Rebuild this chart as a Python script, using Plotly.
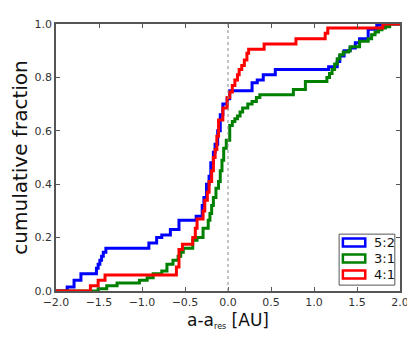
import plotly.graph_objects as go

# step edges (x) and cumulative fraction after each step (y)
blue_x = [-2.0, -1.87, -1.79, -1.71, -1.53, -1.51, -1.49, -1.47, -1.45, -1.42, -0.92, -0.83, -0.77, -0.67, -0.57,
          -0.37, -0.30, -0.28, -0.25, -0.22, -0.20, -0.17, -0.15, -0.12, -0.09, -0.06, -0.01, 0.02, 0.28, 0.34,
          0.41, 0.55, 1.17, 1.27, 1.30, 1.35, 1.42, 1.48, 1.53, 1.63, 1.73, 1.77, 2.0]
blue_y = [0, 0.015, 0.04, 0.065, 0.085, 0.10, 0.115, 0.13, 0.145, 0.16, 0.18, 0.20, 0.21, 0.23, 0.265,
          0.28, 0.32, 0.35, 0.40, 0.43, 0.48, 0.52, 0.55, 0.60, 0.66, 0.70, 0.72, 0.75, 0.78, 0.79,
          0.81, 0.83, 0.84, 0.86, 0.88, 0.90, 0.91, 0.93, 0.945, 0.98, 0.995, 1.0, 1.0]

green_x = [-2.0, -1.51, -1.41, -1.29, -1.03, -0.94, -0.87, -0.77, -0.71, -0.64, -0.58, -0.55, -0.52, -0.41,
           -0.36, -0.29, -0.23, -0.21, -0.19, -0.17, -0.14, -0.11, -0.09, -0.07, -0.05, -0.02, 0.02, 0.05,
           0.08, 0.11, 0.14, 0.17, 0.23, 0.28, 0.33, 0.37, 0.76, 0.90, 1.15, 1.18, 1.21, 1.24, 1.27, 1.30,
           1.34, 1.40, 1.42, 1.53, 1.63, 1.67, 1.71, 1.75, 1.79, 1.83, 1.88, 2.0]
green_y = [0, 0.008, 0.02, 0.03, 0.04, 0.05, 0.065, 0.075, 0.10, 0.115, 0.13, 0.145, 0.16, 0.19,
           0.20, 0.235, 0.265, 0.29, 0.32, 0.35, 0.385, 0.41, 0.45, 0.49, 0.535, 0.565, 0.62, 0.635,
           0.645, 0.655, 0.67, 0.685, 0.70, 0.71, 0.725, 0.735, 0.755, 0.785, 0.80, 0.815, 0.83, 0.85, 0.87, 0.885,
           0.895, 0.90, 0.915, 0.935, 0.945, 0.96, 0.97, 0.978, 0.985, 0.99, 1.0, 1.0]

red_x = [-2.0, -1.60, -1.51, -1.43, -0.60, -0.57, -0.53, -0.41, -0.38, -0.36, -0.29, -0.27, -0.24, -0.22,
         -0.19, -0.17, -0.15, -0.13, -0.11, -0.06, -0.01, 0.02, 0.05, 0.08, 0.11, 0.13, 0.16, 0.19, 0.22,
         0.24, 0.42, 0.79, 1.13, 1.16, 1.80, 2.0]
red_y = [0, 0.02, 0.04, 0.06, 0.09, 0.155, 0.175, 0.20, 0.235, 0.27, 0.30, 0.34, 0.37, 0.41,
         0.45, 0.50, 0.53, 0.58, 0.64, 0.685, 0.725, 0.745, 0.77, 0.79, 0.81, 0.83, 0.845, 0.865, 0.89,
         0.905, 0.925, 0.945, 0.965, 0.985, 1.0, 1.0]

series = [("5:2", blue_x, blue_y, "#0000ff"),
          ("3:1", green_x, green_y, "#008000"),
          ("4:1", red_x, red_y, "#ff0000")]

fig = go.Figure()
for name, xs, ys, col in series:
    fig.add_trace(go.Scatter(x=xs, y=ys, mode="lines", line=dict(color=col, width=3, shape="hv"),
                             name=name, showlegend=False))

fig.add_vline(x=0, line=dict(color="#888888", width=1, dash="dot"))

# legend box with outlined patches, matplotlib style
fig.add_shape(type="rect", xref="paper", yref="paper", x0=0.823, x1=0.985, y0=0.022, y1=0.213,
              line=dict(color="#555555", width=1), fillcolor="white", layer="above")
for i, (name, xs, ys, col) in enumerate(series):
    yc = 0.182 - 0.06 * i
    fig.add_shape(type="rect", xref="paper", yref="paper", x0=0.834, x1=0.899, y0=yc - 0.015, y1=yc + 0.015,
                  line=dict(color=col, width=2.5), fillcolor="white", layer="above")
    fig.add_annotation(text=name, xref="paper", yref="paper", x=0.92, y=yc, xanchor="left", yanchor="middle",
                       showarrow=False, font=dict(size=13, color="#111111"))

axis_style = dict(showline=True, linecolor="#555555", linewidth=1.5, mirror="ticks", ticks="inside",
                  ticklen=4, tickcolor="#555555", showgrid=False, zeroline=False, automargin=False,
                  tickfont=dict(size=11, color="#333333"))

# page body keeps an 8px margin, so the figure is a bit smaller and shifted
fig.update_layout(
    width=407, height=335,
    margin=dict(l=48, r=15, t=16, b=52),
    plot_bgcolor="white", paper_bgcolor="white",
    font=dict(family="DejaVu Sans", color="#111111"),
    showlegend=False,
    xaxis=dict(range=[-2, 2], dtick=0.5, tickformat=".1f",
               title=dict(text='a-a<sub><span style="font-size:8px">res</span></sub> [AU]', font=dict(size=17),
                          standoff=6), **axis_style),
    yaxis=dict(range=[0, 1], dtick=0.2, tickformat=".1f",
               title=dict(text="cumulative fraction", font=dict(size=20), standoff=2), **axis_style),
)

fig.write_html("out.html")
